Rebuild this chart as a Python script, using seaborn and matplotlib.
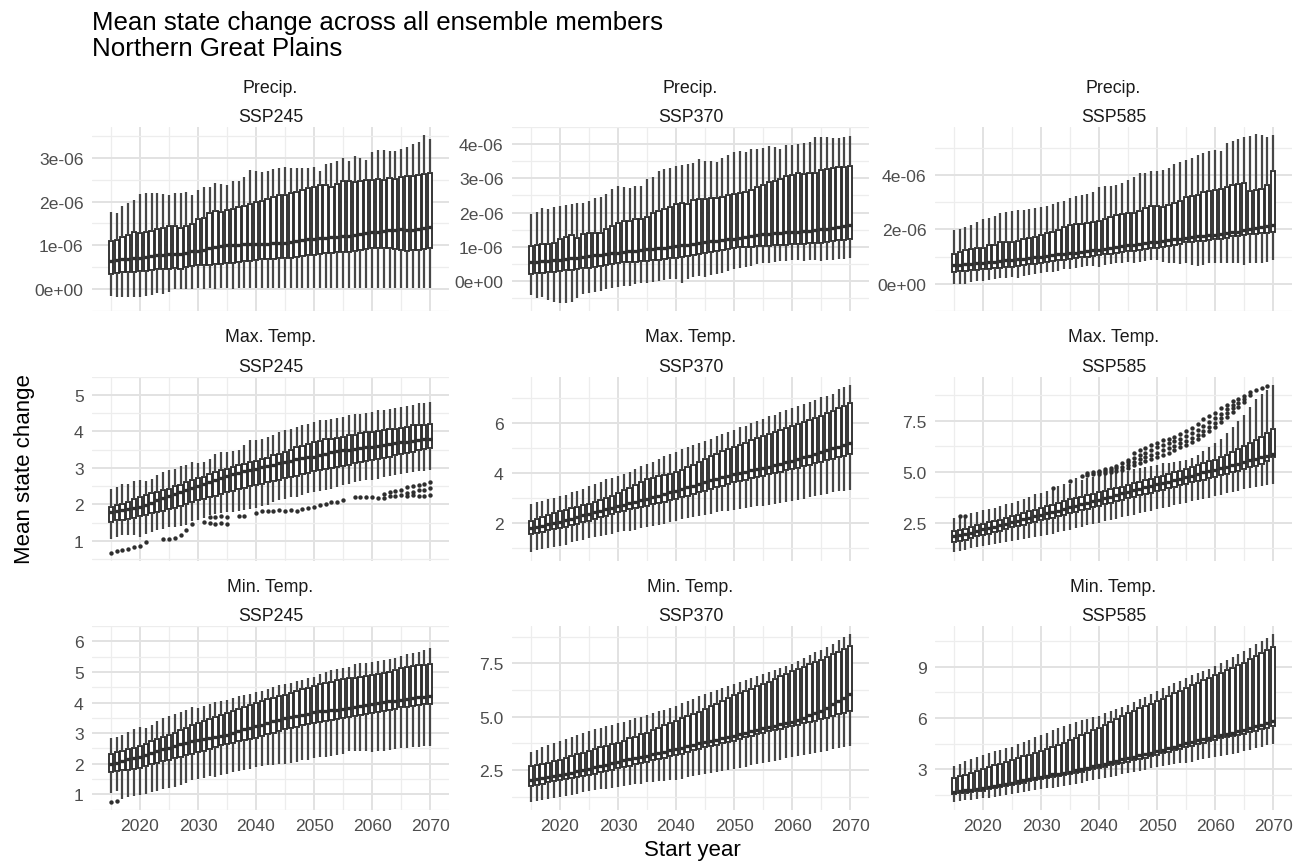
import matplotlib
matplotlib.use("Agg")
import matplotlib.pyplot as plt
import numpy as np
import pandas as pd
import seaborn as sns

# ---------------------------------------------------------------------------
# Data: five-number summaries of the ensemble mean state change per start year
# ---------------------------------------------------------------------------
YEARS = list(range(2015, 2071))
VARIABLES = ["Precip.", "Max. Temp.", "Min. Temp."]
SCENARIOS = ["SSP245", "SSP370", "SSP585"]
PRECIP_UNIT = 1e-6  # precipitation values below are in units of 1e-06

# Precipitation, SSP245
PR245_LO = [-0.15, -0.18, -0.19, -0.18, -0.18, -0.17, -0.15, -0.14, -0.10, -0.12,
            -0.07, 0.00, 0.01, 0.00, 0.01, 0.02, 0.01, 0.02, 0.01, 0.02,
            0.02, 0.01, 0.02, 0.02, 0.03, 0.02, 0.02, 0.03, 0.02, 0.03,
            0.02, 0.03, 0.02, 0.02, 0.03, 0.02, 0.02, 0.03, 0.02, 0.02,
            0.03, 0.02, 0.02, 0.03, 0.02, 0.02, 0.03, 0.02, 0.02, 0.03,
            0.02, 0.02, 0.03, 0.02, 0.02, 0.03]
PR245_Q1 = [0.35, 0.37, 0.38, 0.39, 0.40, 0.42, 0.42, 0.43, 0.45, 0.46,
            0.47, 0.48, 0.47, 0.50, 0.52, 0.54, 0.55, 0.56, 0.58, 0.58,
            0.59, 0.60, 0.62, 0.64, 0.65, 0.67, 0.68, 0.68, 0.69, 0.70,
            0.70, 0.72, 0.74, 0.76, 0.77, 0.78, 0.80, 0.82, 0.83, 0.84,
            0.85, 0.84, 0.86, 0.90, 0.92, 0.93, 0.93, 0.94, 0.95, 0.92,
            0.89, 0.88, 0.89, 0.90, 0.92, 0.93]
PR245_MED = [0.65, 0.66, 0.68, 0.69, 0.70, 0.72, 0.74, 0.75, 0.77, 0.78,
             0.80, 0.81, 0.81, 0.83, 0.86, 0.88, 0.90, 0.93, 0.97, 0.98,
             1.00, 1.00, 1.01, 1.02, 1.04, 1.04, 1.03, 1.04, 1.05, 1.05,
             1.06, 1.08, 1.10, 1.12, 1.14, 1.15, 1.16, 1.17, 1.18, 1.20,
             1.21, 1.22, 1.24, 1.26, 1.28, 1.30, 1.31, 1.32, 1.34, 1.36,
             1.37, 1.34, 1.36, 1.38, 1.40, 1.42]
PR245_Q3 = [1.11, 1.13, 1.18, 1.24, 1.30, 1.28, 1.31, 1.33, 1.37, 1.39,
            1.44, 1.44, 1.39, 1.44, 1.48, 1.61, 1.63, 1.74, 1.78, 1.76,
            1.81, 1.84, 1.87, 1.90, 1.95, 2.00, 2.02, 2.07, 2.11, 2.15,
            2.15, 2.19, 2.22, 2.26, 2.30, 2.33, 2.39, 2.39, 2.33, 2.41,
            2.46, 2.46, 2.44, 2.46, 2.50, 2.50, 2.52, 2.50, 2.54, 2.52,
            2.56, 2.58, 2.59, 2.61, 2.63, 2.65]
PR245_HI = [1.76, 1.74, 1.89, 1.96, 2.04, 2.18, 2.20, 2.20, 2.19, 2.17,
            2.15, 2.20, 2.20, 2.22, 2.15, 2.26, 2.33, 2.33, 2.42, 2.40,
            2.37, 2.46, 2.46, 2.56, 2.72, 2.70, 2.68, 2.70, 2.74, 2.76,
            2.78, 2.76, 2.76, 2.76, 2.76, 2.78, 2.70, 2.85, 2.89, 2.93,
            3.00, 2.93, 3.04, 3.00, 2.96, 3.13, 3.19, 3.17, 3.16, 3.16,
            3.21, 3.24, 3.31, 3.36, 3.52, 3.43]

# Precipitation, SSP370
PR370_LO = [-0.42, -0.49, -0.46, -0.54, -0.61, -0.63, -0.63, -0.61, -0.49, -0.39,
            -0.34, -0.32, -0.29, -0.24, -0.20, -0.17, -0.15, -0.13, -0.09, -0.07,
            -0.05, -0.03, 0.00, 0.03, 0.07, 0.05, -0.05, 0.07, 0.12, 0.15,
            0.13, 0.17, 0.20, 0.24, 0.29, 0.34, 0.39, 0.42, 0.44, 0.49,
            0.54, 0.52, 0.56, 0.59, 0.59, 0.62, 0.63, 0.59, 0.62, 0.63,
            0.59, 0.62, 0.63, 0.65, 0.65, 0.68]
PR370_Q1 = [0.22, 0.23, 0.25, 0.26, 0.28, 0.29, 0.31, 0.33, 0.35, 0.37,
            0.39, 0.42, 0.45, 0.48, 0.51, 0.54, 0.55, 0.56, 0.57, 0.58,
            0.59, 0.61, 0.62, 0.64, 0.66, 0.68, 0.71, 0.74, 0.77, 0.80,
            0.83, 0.86, 0.89, 0.92, 0.95, 0.98, 0.99, 1.00, 1.01, 1.02,
            1.02, 1.03, 1.04, 1.05, 1.06, 1.07, 1.08, 1.09, 1.10, 1.11,
            1.12, 1.14, 1.16, 1.19, 1.21, 1.24]
PR370_MED = [0.56, 0.57, 0.58, 0.60, 0.61, 0.63, 0.64, 0.66, 0.68, 0.70,
             0.73, 0.75, 0.77, 0.79, 0.81, 0.83, 0.85, 0.87, 0.89, 0.91,
             0.93, 0.95, 0.97, 0.98, 1.00, 1.02, 1.04, 1.06, 1.08, 1.11,
             1.14, 1.16, 1.18, 1.20, 1.22, 1.24, 1.27, 1.29, 1.32, 1.34,
             1.37, 1.38, 1.39, 1.40, 1.42, 1.43, 1.44, 1.46, 1.47, 1.49,
             1.51, 1.53, 1.56, 1.59, 1.62, 1.65]
PR370_Q3 = [1.02, 1.05, 1.07, 1.09, 1.12, 1.24, 1.30, 1.34, 1.27, 1.37,
            1.41, 1.39, 1.39, 1.51, 1.61, 1.69, 1.76, 1.76, 1.80, 1.82,
            1.88, 1.98, 2.05, 2.10, 2.15, 2.24, 2.29, 2.24, 2.37, 2.39,
            2.41, 2.44, 2.44, 2.47, 2.51, 2.54, 2.57, 2.60, 2.66, 2.76,
            2.80, 2.88, 2.93, 2.98, 3.07, 3.09, 3.17, 3.12, 3.17, 3.15,
            3.25, 3.27, 3.29, 3.32, 3.32, 3.37]
PR370_HI = [1.95, 2.02, 2.12, 2.10, 2.15, 2.18, 2.21, 2.24, 2.27, 2.27,
            2.34, 2.44, 2.46, 2.54, 2.68, 2.78, 2.76, 2.73, 2.78, 2.78,
            2.98, 3.05, 3.22, 3.27, 3.29, 3.35, 3.39, 3.41, 3.46, 3.56,
            3.51, 3.51, 3.48, 3.60, 3.68, 3.76, 3.80, 3.76, 3.87, 3.85,
            3.90, 3.95, 3.92, 3.87, 3.97, 3.97, 4.00, 4.03, 4.07, 4.20,
            4.22, 4.22, 4.19, 4.19, 4.22, 4.24]

# Precipitation, SSP585
PR585_LO = [0.00, 0.00, 0.00, 0.07, 0.09, 0.11, 0.14, 0.18, 0.20, 0.22,
            0.25, 0.22, 0.29, 0.31, 0.36, 0.40, 0.42, 0.44, 0.47, 0.53,
            0.55, 0.58, 0.62, 0.64, 0.66, 0.62, 0.69, 0.73, 0.75, 0.77,
            0.80, 0.77, 0.80, 0.84, 0.86, 0.86, 0.80, 0.77, 0.75, 0.73,
            0.75, 0.69, 0.66, 0.69, 0.75, 0.75, 0.77, 0.75, 0.77, 0.75,
            0.69, 0.75, 0.77, 0.77, 0.80, 0.86]
PR585_Q1 = [0.44, 0.46, 0.48, 0.50, 0.52, 0.53, 0.55, 0.57, 0.59, 0.61,
            0.62, 0.65, 0.68, 0.71, 0.74, 0.77, 0.80, 0.83, 0.86, 0.89,
            0.91, 0.94, 0.97, 1.00, 1.03, 1.06, 1.09, 1.11, 1.14, 1.17,
            1.19, 1.21, 1.24, 1.27, 1.30, 1.32, 1.36, 1.40, 1.44, 1.48,
            1.52, 1.54, 1.56, 1.58, 1.60, 1.63, 1.66, 1.70, 1.74, 1.77,
            1.80, 1.82, 1.84, 1.86, 1.88, 1.91]
PR585_MED = [0.69, 0.70, 0.72, 0.73, 0.75, 0.77, 0.79, 0.81, 0.83, 0.86,
             0.88, 0.90, 0.92, 0.94, 0.97, 0.99, 1.02, 1.05, 1.08, 1.10,
             1.13, 1.15, 1.18, 1.20, 1.23, 1.25, 1.28, 1.31, 1.35, 1.38,
             1.41, 1.44, 1.46, 1.49, 1.52, 1.54, 1.57, 1.60, 1.63, 1.66,
             1.69, 1.71, 1.74, 1.76, 1.78, 1.80, 1.83, 1.86, 1.89, 1.92,
             1.96, 2.00, 2.04, 2.08, 2.12, 2.18]
PR585_Q3 = [1.10, 1.17, 1.23, 1.28, 1.32, 1.32, 1.43, 1.43, 1.52, 1.52,
            1.54, 1.57, 1.65, 1.68, 1.72, 1.80, 1.85, 1.91, 1.98, 2.07,
            2.18, 2.20, 2.20, 2.24, 2.27, 2.31, 2.40, 2.46, 2.53, 2.57,
            2.60, 2.62, 2.68, 2.79, 2.86, 2.86, 2.84, 2.90, 2.98, 3.06,
            3.20, 3.23, 3.26, 3.37, 3.40, 3.45, 3.50, 3.56, 3.64, 3.66,
            3.72, 3.42, 3.45, 3.50, 3.64, 4.14]
PR585_HI = [1.96, 2.02, 2.09, 2.18, 2.27, 2.38, 2.42, 2.51, 2.60, 2.64,
            2.68, 2.73, 2.73, 2.75, 2.79, 2.84, 2.86, 2.95, 3.00, 3.06,
            3.15, 3.23, 3.26, 3.31, 3.39, 3.56, 3.61, 3.61, 3.63, 3.72,
            3.81, 3.94, 4.08, 4.08, 4.14, 4.16, 4.19, 4.25, 4.39, 4.47,
            4.55, 4.63, 4.74, 4.80, 4.88, 4.91, 4.88, 5.18, 5.25, 5.32,
            5.40, 5.43, 5.49, 5.47, 5.40, 5.47]

# Maximum temperature, SSP245
TX245_LO = [1.04, 1.10, 1.15, 1.15, 1.16, 1.12, 1.18, 1.23, 1.31, 1.33,
            1.37, 1.39, 1.41, 1.43, 1.55, 1.58, 1.62, 1.72, 1.74, 1.76,
            1.78, 1.80, 1.82, 1.84, 1.86, 1.90, 1.95, 1.98, 2.07, 2.11,
            2.15, 2.19, 2.21, 2.26, 2.31, 2.35, 2.37, 2.39, 2.43, 2.48,
            2.52, 2.56, 2.60, 2.64, 2.66, 2.68, 2.70, 2.74, 2.77, 2.80,
            2.82, 2.87, 2.88, 2.90, 2.92, 2.93]
TX245_Q1 = [1.53, 1.56, 1.58, 1.61, 1.64, 1.67, 1.71, 1.75, 1.79, 1.82,
            1.86, 1.91, 1.96, 2.01, 2.06, 2.11, 2.15, 2.20, 2.24, 2.29,
            2.33, 2.37, 2.41, 2.45, 2.49, 2.52, 2.56, 2.60, 2.64, 2.68,
            2.72, 2.76, 2.79, 2.83, 2.86, 2.90, 2.93, 2.96, 2.99, 3.02,
            3.05, 3.08, 3.12, 3.15, 3.18, 3.21, 3.24, 3.28, 3.31, 3.35,
            3.38, 3.41, 3.44, 3.48, 3.51, 3.54]
TX245_MED = [1.78, 1.81, 1.84, 1.87, 1.90, 1.94, 1.99, 2.05, 2.11, 2.17,
             2.23, 2.28, 2.34, 2.39, 2.44, 2.49, 2.55, 2.61, 2.67, 2.73,
             2.79, 2.82, 2.86, 2.90, 2.94, 2.97, 3.01, 3.05, 3.09, 3.13,
             3.17, 3.20, 3.23, 3.26, 3.29, 3.31, 3.35, 3.38, 3.42, 3.45,
             3.48, 3.50, 3.52, 3.54, 3.56, 3.58, 3.61, 3.63, 3.65, 3.68,
             3.70, 3.72, 3.74, 3.76, 3.78, 3.80]
TX245_Q3 = [1.94, 1.98, 2.02, 2.07, 2.15, 2.19, 2.25, 2.30, 2.35, 2.39,
            2.43, 2.49, 2.54, 2.60, 2.68, 2.72, 2.76, 2.82, 2.89, 2.93,
            2.98, 3.03, 3.07, 3.10, 3.15, 3.20, 3.23, 3.28, 3.34, 3.38,
            3.44, 3.50, 3.56, 3.61, 3.66, 3.70, 3.74, 3.79, 3.80, 3.83,
            3.85, 3.89, 3.91, 3.94, 3.97, 3.99, 4.02, 4.03, 4.05, 4.07,
            4.10, 4.12, 4.16, 4.18, 4.18, 4.20]
TX245_HI = [2.43, 2.48, 2.56, 2.57, 2.64, 2.68, 2.64, 2.70, 2.80, 2.89,
            2.93, 2.97, 3.05, 3.09, 3.15, 3.13, 3.17, 3.25, 3.38, 3.42,
            3.44, 3.46, 3.50, 3.62, 3.75, 3.75, 3.80, 3.85, 3.91, 3.97,
            4.03, 4.07, 4.11, 4.16, 4.21, 4.26, 4.30, 4.32, 4.34, 4.36,
            4.40, 4.44, 4.46, 4.48, 4.51, 4.53, 4.57, 4.59, 4.62, 4.65,
            4.67, 4.69, 4.73, 4.77, 4.78, 4.80]
TX245_OUT_YEAR = [2015, 2016, 2017, 2018, 2019, 2020, 2021,
                  2024, 2025, 2026, 2027, 2028, 2029,
                  2031, 2032, 2032, 2033, 2033, 2034, 2034, 2035, 2035,
                  2037, 2038,
                  2040, 2041, 2042, 2043, 2044, 2045, 2046, 2047, 2048, 2049,
                  2050, 2051, 2052, 2053, 2054, 2055,
                  2057, 2058, 2059, 2060, 2061, 2062, 2062, 2063, 2063,
                  2064, 2064, 2065, 2065, 2066, 2066, 2066, 2067, 2067, 2067,
                  2068, 2068, 2068, 2069, 2069, 2069, 2070, 2070, 2070]
TX245_OUT_VAL = [0.67, 0.71, 0.75, 0.79, 0.83, 0.87, 0.97,
                 1.04, 1.05, 1.08, 1.17, 1.31, 1.45,
                 1.51, 1.50, 1.66, 1.47, 1.66, 1.48, 1.67, 1.47, 1.66,
                 1.67, 1.67,
                 1.76, 1.82, 1.83, 1.83, 1.84, 1.83, 1.84, 1.82, 1.87, 1.90,
                 1.94, 1.98, 2.02, 2.06, 2.07, 2.12,
                 2.19, 2.19, 2.20, 2.19, 2.18, 2.17, 2.28, 2.22, 2.33,
                 2.24, 2.36, 2.26, 2.38, 2.23, 2.32, 2.47, 2.25, 2.35, 2.50,
                 2.22, 2.38, 2.52, 2.24, 2.40, 2.55, 2.26, 2.45, 2.62]

# Maximum temperature, SSP370
TX370_LO = [0.83, 0.93, 0.96, 0.99, 1.03, 1.09, 1.12, 1.23, 1.26, 1.33,
            1.39, 1.43, 1.47, 1.52, 1.56, 1.63, 1.66, 1.69, 1.73, 1.79,
            1.83, 1.87, 1.92, 1.96, 2.03, 2.09, 2.16, 2.19, 2.23, 2.29,
            2.32, 2.36, 2.43, 2.46, 2.49, 2.53, 2.56, 2.59, 2.63, 2.66,
            2.69, 2.72, 2.76, 2.80, 2.85, 2.89, 2.92, 2.96, 3.03, 3.06,
            3.12, 3.16, 3.23, 3.26, 3.29, 3.33]
TX370_Q1 = [1.56, 1.61, 1.65, 1.70, 1.74, 1.79, 1.85, 1.91, 1.97, 2.03,
            2.09, 2.16, 2.23, 2.29, 2.36, 2.43, 2.48, 2.54, 2.59, 2.64,
            2.69, 2.74, 2.80, 2.85, 2.91, 2.96, 3.03, 3.09, 3.16, 3.22,
            3.29, 3.36, 3.43, 3.49, 3.56, 3.63, 3.68, 3.73, 3.78, 3.84,
            3.89, 3.94, 4.00, 4.05, 4.11, 4.16, 4.21, 4.27, 4.32, 4.38,
            4.43, 4.50, 4.56, 4.63, 4.69, 4.76]
TX370_MED = [1.79, 1.84, 1.89, 1.94, 1.98, 2.03, 2.10, 2.17, 2.23, 2.30,
             2.36, 2.42, 2.48, 2.55, 2.61, 2.67, 2.73, 2.79, 2.85, 2.90,
             2.96, 3.03, 3.09, 3.16, 3.22, 3.29, 3.36, 3.43, 3.49, 3.56,
             3.63, 3.70, 3.76, 3.83, 3.89, 3.96, 4.01, 4.05, 4.10, 4.14,
             4.19, 4.25, 4.31, 4.37, 4.43, 4.49, 4.56, 4.63, 4.69, 4.76,
             4.83, 4.90, 4.98, 5.05, 5.12, 5.20]
TX370_Q3 = [2.09, 2.16, 2.24, 2.31, 2.38, 2.49, 2.53, 2.58, 2.64, 2.70,
            2.76, 2.85, 2.93, 3.00, 3.08, 3.20, 3.30, 3.40, 3.52, 3.64,
            3.76, 3.80, 3.86, 3.92, 3.97, 4.03, 4.12, 4.22, 4.32, 4.44,
            4.56, 4.66, 4.76, 4.86, 4.95, 5.03, 5.10, 5.20, 5.30, 5.40,
            5.49, 5.57, 5.65, 5.73, 5.81, 5.89, 5.97, 6.05, 6.13, 6.21,
            6.29, 6.39, 6.49, 6.59, 6.69, 6.80]
TX370_HI = [2.76, 2.83, 2.89, 2.96, 2.99, 3.09, 3.12, 3.23, 3.29, 3.36,
            3.49, 3.56, 3.63, 3.76, 3.79, 3.89, 3.96, 4.03, 4.16, 4.29,
            4.35, 4.45, 4.56, 4.67, 4.76, 4.85, 4.94, 5.03, 5.12, 5.20,
            5.29, 5.36, 5.47, 5.56, 5.63, 5.73, 5.83, 5.89, 6.00, 6.09,
            6.16, 6.27, 6.32, 6.43, 6.50, 6.59, 6.67, 6.76, 6.85, 6.93,
            7.03, 7.09, 7.16, 7.36, 7.43, 7.52]

# Maximum temperature, SSP585
TX585_LO = [1.06, 1.12, 1.18, 1.24, 1.30, 1.35, 1.40, 1.45, 1.50, 1.55,
            1.60, 1.65, 1.70, 1.75, 1.80, 1.84, 1.90, 1.97, 2.04, 2.10,
            2.17, 2.24, 2.30, 2.37, 2.44, 2.50, 2.57, 2.64, 2.70, 2.77,
            2.83, 2.90, 2.97, 3.03, 3.10, 3.16, 3.23, 3.29, 3.36, 3.42,
            3.48, 3.55, 3.61, 3.68, 3.74, 3.81, 3.88, 3.94, 4.01, 4.08,
            4.14, 4.19, 4.24, 4.30, 4.35, 4.39]
TX585_Q1 = [1.55, 1.62, 1.68, 1.76, 1.84, 1.91, 1.97, 2.05, 2.12, 2.19,
            2.27, 2.33, 2.40, 2.47, 2.55, 2.62, 2.69, 2.76, 2.83, 2.90,
            2.98, 3.05, 3.12, 3.19, 3.27, 3.34, 3.41, 3.48, 3.56, 3.63,
            3.70, 3.77, 3.84, 3.91, 3.98, 4.06, 4.13, 4.20, 4.27, 4.34,
            4.41, 4.48, 4.55, 4.62, 4.70, 4.77, 4.84, 4.91, 4.99, 5.06,
            5.14, 5.22, 5.31, 5.40, 5.52, 5.75]
TX585_MED = [1.84, 1.89, 1.95, 2.02, 2.10, 2.18, 2.24, 2.31, 2.38, 2.46,
             2.53, 2.60, 2.67, 2.74, 2.82, 2.90, 2.96, 3.03, 3.10, 3.18,
             3.26, 3.33, 3.41, 3.48, 3.56, 3.63, 3.70, 3.78, 3.86, 3.94,
             4.01, 4.09, 4.16, 4.24, 4.31, 4.38, 4.45, 4.52, 4.60, 4.67,
             4.75, 4.82, 4.89, 4.97, 5.04, 5.11, 5.19, 5.26, 5.33, 5.41,
             5.48, 5.56, 5.63, 5.71, 5.79, 5.88]
TX585_Q3 = [2.09, 2.15, 2.22, 2.29, 2.37, 2.45, 2.52, 2.59, 2.66, 2.74,
            2.83, 2.90, 2.98, 3.06, 3.14, 3.24, 3.31, 3.39, 3.47, 3.56,
            3.65, 3.72, 3.79, 3.86, 3.93, 4.00, 4.07, 4.14, 4.21, 4.28,
            4.35, 4.44, 4.52, 4.60, 4.66, 4.75, 4.82, 4.90, 4.98, 5.06,
            5.15, 5.24, 5.33, 5.42, 5.51, 5.60, 5.72, 5.84, 5.96, 6.10,
            6.25, 6.40, 6.55, 6.72, 6.90, 7.10]
TX585_HI = [2.75, 2.72, 2.78, 3.00, 3.05, 3.12, 3.18, 3.25, 3.32, 3.40,
            3.48, 3.56, 3.65, 3.78, 3.89, 3.95, 4.06, 4.10, 4.30, 4.38,
            4.40, 4.71, 4.62, 4.70, 4.75, 4.80, 4.85, 4.90, 4.95, 5.00,
            5.05, 5.15, 5.20, 5.25, 5.30, 5.35, 5.42, 5.45, 5.50, 5.55,
            5.60, 5.70, 5.85, 6.00, 6.20, 6.40, 6.60, 6.90, 7.20, 7.50,
            7.80, 8.20, 8.60, 8.80, 9.00, 9.27]
TX585_OUT_YEAR = [2016, 2017, 2032, 2035, 2037, 2038, 2038, 2039, 2039,
                  2040, 2040, 2040, 2041, 2041, 2041, 2042, 2042, 2042,
                  2043, 2043, 2043, 2044, 2044, 2044,
                  2045, 2045, 2045, 2045, 2046, 2046, 2046, 2046,
                  2047, 2047, 2047, 2047, 2048, 2048, 2048, 2048,
                  2049, 2049, 2049, 2049, 2050, 2050, 2050, 2050,
                  2051, 2051, 2051, 2051, 2052, 2052, 2052, 2052,
                  2053, 2053, 2053, 2053, 2054, 2054, 2054, 2054,
                  2055, 2055, 2055, 2055, 2056, 2056, 2056, 2056,
                  2057, 2057, 2057, 2057, 2058, 2058, 2058, 2058,
                  2059, 2059, 2059, 2059, 2060, 2060, 2060, 2060,
                  2061, 2061, 2061, 2061, 2062, 2062, 2062, 2062,
                  2063, 2063, 2063, 2063, 2064, 2064, 2064,
                  2065, 2065, 2065, 2066, 2066, 2067, 2068, 2069]
TX585_OUT_VAL = [2.83, 2.83, 4.22, 4.55, 4.80, 4.85, 4.93, 4.88, 4.97,
                 4.90, 5.00, 5.05, 4.95, 5.05, 5.15, 5.00, 5.10, 5.18,
                 5.05, 5.17, 5.28, 5.10, 5.25, 5.42,
                 5.20, 5.35, 5.50, 5.60, 5.35, 5.50, 5.70, 5.94,
                 5.45, 5.62, 5.82, 6.07, 5.55, 5.75, 5.95, 6.19,
                 5.65, 5.85, 6.05, 6.30, 5.75, 5.95, 6.20, 6.43,
                 5.85, 6.05, 6.30, 6.57, 5.95, 6.15, 6.40, 6.63,
                 6.05, 6.25, 6.50, 6.73, 6.20, 6.40, 6.60, 6.84,
                 6.30, 6.50, 6.75, 7.00, 6.45, 6.65, 6.90, 7.17,
                 6.60, 6.80, 7.05, 7.34, 6.80, 7.00, 7.25, 7.58,
                 7.00, 7.20, 7.45, 7.75, 7.20, 7.40, 7.65, 7.91,
                 7.45, 7.65, 7.85, 8.11, 7.70, 7.90, 8.10, 8.27,
                 7.95, 8.15, 8.30, 8.48, 8.20, 8.40, 8.60,
                 8.45, 8.60, 8.73, 8.75, 8.93, 9.02, 9.14, 9.22]

# Minimum temperature, SSP245
TN245_LO = [1.04, 1.12, 0.84, 0.92, 0.94, 0.97, 1.02, 1.07, 1.12, 1.17,
            1.22, 1.24, 1.32, 1.37, 1.47, 1.50, 1.54, 1.60, 1.57, 1.62,
            1.67, 1.72, 1.77, 1.80, 1.82, 1.88, 1.91, 1.95, 1.95, 1.98,
            2.00, 2.04, 2.07, 2.11, 2.13, 2.18, 2.21, 2.23, 2.25, 2.28,
            2.33, 2.41, 2.43, 2.43, 2.41, 2.38, 2.41, 2.43, 2.45, 2.48,
            2.51, 2.53, 2.55, 2.55, 2.58, 2.58]
TN245_Q1 = [1.72, 1.75, 1.78, 1.81, 1.84, 1.87, 1.92, 1.98, 2.03, 2.08,
            2.13, 2.18, 2.23, 2.28, 2.33, 2.38, 2.43, 2.49, 2.54, 2.60,
            2.65, 2.69, 2.73, 2.77, 2.81, 2.85, 2.91, 2.96, 3.02, 3.07,
            3.13, 3.17, 3.21, 3.25, 3.29, 3.33, 3.36, 3.39, 3.42, 3.45,
            3.48, 3.52, 3.55, 3.59, 3.62, 3.66, 3.70, 3.73, 3.77, 3.80,
            3.84, 3.86, 3.89, 3.91, 3.94, 3.96]
TN245_MED = [2.00, 2.04, 2.09, 2.14, 2.18, 2.23, 2.29, 2.35, 2.41, 2.47,
             2.53, 2.58, 2.63, 2.68, 2.73, 2.78, 2.81, 2.85, 2.88, 2.92,
             2.95, 3.01, 3.06, 3.12, 3.17, 3.23, 3.28, 3.33, 3.38, 3.43,
             3.48, 3.52, 3.56, 3.60, 3.64, 3.69, 3.71, 3.73, 3.75, 3.77,
             3.79, 3.82, 3.86, 3.89, 3.93, 3.96, 3.99, 4.01, 4.04, 4.06,
             4.09, 4.11, 4.14, 4.17, 4.19, 4.22]
TN245_Q3 = [2.33, 2.38, 2.43, 2.47, 2.52, 2.58, 2.66, 2.73, 2.80, 2.88,
            2.95, 3.02, 3.09, 3.16, 3.25, 3.33, 3.40, 3.46, 3.53, 3.60,
            3.66, 3.72, 3.79, 3.85, 3.92, 3.99, 4.05, 4.10, 4.16, 4.21,
            4.26, 4.32, 4.38, 4.43, 4.49, 4.54, 4.59, 4.63, 4.68, 4.72,
            4.76, 4.79, 4.81, 4.84, 4.86, 4.89, 4.93, 4.97, 5.01, 5.06,
            5.12, 5.15, 5.18, 5.21, 5.24, 5.27]
TN245_HI = [2.85, 2.88, 2.95, 3.03, 3.13, 3.21, 3.18, 3.28, 3.38, 3.48,
            3.56, 3.62, 3.69, 3.76, 3.84, 3.82, 3.89, 3.96, 4.02, 4.06,
            4.09, 4.16, 4.22, 4.25, 4.29, 4.34, 4.39, 4.44, 4.52, 4.56,
            4.59, 4.64, 4.69, 4.74, 4.79, 4.84, 4.92, 4.99, 5.06, 5.09,
            5.12, 5.16, 5.25, 5.30, 5.30, 5.33, 5.37, 5.40, 5.43, 5.47,
            5.53, 5.57, 5.63, 5.65, 5.73, 5.78]
TN245_OUT_YEAR = [2015, 2016]
TN245_OUT_VAL = [0.74, 0.77]

# Minimum temperature, SSP370
TN370_LO = [1.02, 1.06, 1.11, 1.14, 1.18, 1.22, 1.29, 1.34, 1.40, 1.47,
            1.53, 1.55, 1.59, 1.63, 1.65, 1.69, 1.74, 1.79, 1.83, 1.87,
            1.92, 1.94, 1.97, 2.00, 2.03, 2.05, 2.10, 2.16, 2.21, 2.26,
            2.31, 2.35, 2.41, 2.46, 2.50, 2.55, 2.60, 2.66, 2.72, 2.77,
            2.83, 2.87, 2.93, 2.99, 3.05, 3.09, 3.14, 3.19, 3.25, 3.31,
            3.36, 3.41, 3.47, 3.53, 3.58, 3.64]
TN370_Q1 = [1.74, 1.80, 1.87, 1.93, 1.99, 2.05, 2.09, 2.13, 2.18, 2.23,
            2.27, 2.33, 2.40, 2.46, 2.52, 2.58, 2.64, 2.71, 2.77, 2.83,
            2.89, 2.95, 3.01, 3.07, 3.14, 3.20, 3.27, 3.35, 3.42, 3.49,
            3.56, 3.62, 3.68, 3.75, 3.81, 3.87, 3.95, 4.03, 4.10, 4.18,
            4.26, 4.32, 4.38, 4.44, 4.51, 4.57, 4.63, 4.70, 4.76, 4.82,
            4.88, 4.96, 5.04, 5.11, 5.19, 5.27]
TN370_MED = [2.05, 2.09, 2.14, 2.18, 2.23, 2.27, 2.33, 2.38, 2.44, 2.49,
             2.55, 2.62, 2.69, 2.75, 2.82, 2.89, 2.95, 3.00, 3.06, 3.11,
             3.17, 3.23, 3.29, 3.36, 3.42, 3.48, 3.55, 3.62, 3.68, 3.75,
             3.82, 3.88, 3.93, 3.99, 4.04, 4.10, 4.17, 4.24, 4.31, 4.38,
             4.45, 4.51, 4.57, 4.64, 4.70, 4.76, 4.86, 4.96, 5.07, 5.17,
             5.27, 5.43, 5.58, 5.74, 5.89, 6.05]
TN370_Q3 = [2.67, 2.73, 2.80, 2.85, 2.92, 2.98, 3.06, 3.15, 3.23, 3.32,
            3.40, 3.48, 3.56, 3.63, 3.71, 3.79, 3.88, 3.98, 4.07, 4.17,
            4.26, 4.37, 4.48, 4.59, 4.70, 4.81, 4.92, 5.03, 5.13, 5.24,
            5.35, 5.48, 5.61, 5.74, 5.87, 6.00, 6.10, 6.21, 6.31, 6.42,
            6.52, 6.64, 6.77, 6.89, 7.02, 7.14, 7.24, 7.35, 7.45, 7.56,
            7.66, 7.79, 7.92, 8.05, 8.18, 8.31]
TN370_HI = [3.36, 3.46, 3.57, 3.66, 3.77, 3.87, 3.96, 4.05, 4.15, 4.24,
            4.34, 4.41, 4.48, 4.56, 4.63, 4.70, 4.77, 4.85, 4.92, 5.00,
            5.07, 5.16, 5.25, 5.33, 5.42, 5.51, 5.62, 5.73, 5.84, 5.95,
            6.05, 6.15, 6.24, 6.34, 6.43, 6.52, 6.61, 6.71, 6.80, 6.90,
            6.99, 7.08, 7.17, 7.27, 7.36, 7.45, 7.59, 7.73, 7.87, 8.01,
            8.15, 8.29, 8.43, 8.58, 8.72, 8.86]

# Minimum temperature, SSP585
TN585_LO = [1.10, 1.14, 1.18, 1.21, 1.25, 1.29, 1.34, 1.40, 1.45, 1.50,
            1.55, 1.60, 1.66, 1.71, 1.77, 1.82, 1.87, 1.92, 1.98, 2.03,
            2.08, 2.15, 2.21, 2.28, 2.34, 2.41, 2.48, 2.55, 2.62, 2.69,
            2.76, 2.83, 2.90, 2.98, 3.05, 3.12, 3.17, 3.23, 3.28, 3.34,
            3.39, 3.45, 3.52, 3.58, 3.65, 3.71, 3.78, 3.84, 3.91, 3.97,
            4.04, 4.13, 4.22, 4.31, 4.40, 4.49]
TN585_Q1 = [1.55, 1.59, 1.63, 1.67, 1.71, 1.75, 1.82, 1.88, 1.95, 2.01,
            2.08, 2.15, 2.21, 2.28, 2.34, 2.41, 2.47, 2.54, 2.60, 2.67,
            2.73, 2.80, 2.86, 2.93, 2.99, 3.06, 3.14, 3.22, 3.29, 3.37,
            3.45, 3.53, 3.61, 3.68, 3.76, 3.84, 3.93, 4.02, 4.11, 4.20,
            4.29, 4.38, 4.47, 4.55, 4.64, 4.73, 4.80, 4.87, 4.94, 5.01,
            5.08, 5.17, 5.26, 5.34, 5.43, 5.51]
TN585_MED = [1.69, 1.73, 1.77, 1.80, 1.84, 1.88, 1.95, 2.02, 2.08, 2.15,
             2.22, 2.29, 2.36, 2.43, 2.50, 2.57, 2.63, 2.69, 2.74, 2.80,
             2.86, 2.94, 3.02, 3.09, 3.17, 3.25, 3.33, 3.41, 3.49, 3.57,
             3.65, 3.73, 3.81, 3.88, 3.96, 4.04, 4.14, 4.24, 4.33, 4.43,
             4.53, 4.61, 4.69, 4.76, 4.84, 4.92, 5.00, 5.08, 5.15, 5.23,
             5.31, 5.41, 5.51, 5.60, 5.70, 5.80]
TN585_Q3 = [2.47, 2.58, 2.68, 2.79, 2.89, 3.00, 3.11, 3.22, 3.33, 3.44,
            3.55, 3.65, 3.75, 3.84, 3.94, 4.04, 4.17, 4.30, 4.43, 4.56,
            4.69, 4.83, 4.98, 5.12, 5.27, 5.41, 5.59, 5.76, 5.94, 6.11,
            6.29, 6.43, 6.57, 6.70, 6.84, 6.98, 7.14, 7.29, 7.45, 7.60,
            7.76, 7.91, 8.05, 8.20, 8.34, 8.49, 8.64, 8.79, 8.94, 9.09,
            9.24, 9.43, 9.62, 9.80, 9.99, 10.18]
TN585_HI = [3.20, 3.33, 3.46, 3.58, 3.71, 3.84, 3.94, 4.04, 4.13, 4.23,
            4.33, 4.47, 4.61, 4.74, 4.88, 5.02, 5.15, 5.28, 5.41, 5.54,
            5.67, 5.76, 5.86, 5.95, 6.05, 6.14, 6.27, 6.40, 6.52, 6.65,
            6.78, 6.94, 7.10, 7.25, 7.41, 7.57, 7.73, 7.88, 8.04, 8.19,
            8.35, 8.49, 8.63, 8.76, 8.90, 9.04, 9.22, 9.39, 9.57, 9.74,
            9.92, 10.12, 10.32, 10.51, 10.71, 10.90]

# Y-axis breaks of each facet
PR245_TICKS = [0e-6, 1e-6, 2e-6, 3e-6]
PR370_TICKS = [0e-6, 1e-6, 2e-6, 3e-6, 4e-6]
PR585_TICKS = [0e-6, 2e-6, 4e-6]
TX245_TICKS = [1, 2, 3, 4, 5]
TX370_TICKS = [2, 4, 6]
TX585_TICKS = [2.5, 5.0, 7.5]
TN245_TICKS = [1, 2, 3, 4, 5, 6]
TN370_TICKS = [2.5, 5.0, 7.5]
TN585_TICKS = [3, 6, 9]
X_TICKS = [2020, 2030, 2040, 2050, 2060, 2070]

PANELS = {
    ("Precip.", "SSP245"): (PR245_LO, PR245_Q1, PR245_MED, PR245_Q3, PR245_HI, [], [], PR245_TICKS, PRECIP_UNIT),
    ("Precip.", "SSP370"): (PR370_LO, PR370_Q1, PR370_MED, PR370_Q3, PR370_HI, [], [], PR370_TICKS, PRECIP_UNIT),
    ("Precip.", "SSP585"): (PR585_LO, PR585_Q1, PR585_MED, PR585_Q3, PR585_HI, [], [], PR585_TICKS, PRECIP_UNIT),
    ("Max. Temp.", "SSP245"): (TX245_LO, TX245_Q1, TX245_MED, TX245_Q3, TX245_HI, TX245_OUT_YEAR, TX245_OUT_VAL, TX245_TICKS, 1.0),
    ("Max. Temp.", "SSP370"): (TX370_LO, TX370_Q1, TX370_MED, TX370_Q3, TX370_HI, [], [], TX370_TICKS, 1.0),
    ("Max. Temp.", "SSP585"): (TX585_LO, TX585_Q1, TX585_MED, TX585_Q3, TX585_HI, TX585_OUT_YEAR, TX585_OUT_VAL, TX585_TICKS, 1.0),
    ("Min. Temp.", "SSP245"): (TN245_LO, TN245_Q1, TN245_MED, TN245_Q3, TN245_HI, TN245_OUT_YEAR, TN245_OUT_VAL, TN245_TICKS, 1.0),
    ("Min. Temp.", "SSP370"): (TN370_LO, TN370_Q1, TN370_MED, TN370_Q3, TN370_HI, [], [], TN370_TICKS, 1.0),
    ("Min. Temp.", "SSP585"): (TN585_LO, TN585_Q1, TN585_MED, TN585_Q3, TN585_HI, [], [], TN585_TICKS, 1.0),
}

# ---------------------------------------------------------------------------
# Long-format tables: each year's box is built from its five summary values,
# so quartiles/median are exact and whiskers span min..max.
# ---------------------------------------------------------------------------
box_rows, out_rows = [], []
for (var, scen), (lo, q1, med, q3, hi, oy, ov, _, unit) in PANELS.items():
    for i, yr in enumerate(YEARS):
        for v in (lo[i], q1[i], med[i], q3[i], hi[i]):
            box_rows.append((var, scen, yr, v * unit))
    for yr, v in zip(oy, ov):
        out_rows.append((var, scen, yr, v * unit))
boxes = pd.DataFrame(box_rows, columns=["variable", "scenario", "year", "value"])
outliers = pd.DataFrame(out_rows, columns=["variable", "scenario", "year", "value"])

# ---------------------------------------------------------------------------
# Figure
# ---------------------------------------------------------------------------
sns.set_theme(style="white")
plt.rcParams["font.family"] = ["Liberation Sans", "DejaVu Sans"]

W, H = 1305, 862
fig = plt.figure(figsize=(W / 100, H / 100), dpi=100)
fig.patch.set_facecolor("white")

COL_LEFT = [92, 512, 935]
PANEL_W = 357
ROW_TOP = [128, 377.5, 627]
PANEL_H = 184
LINE = "#2E2E2E"
GRID_MAJOR = "#E2E2E2"
GRID_MINOR = "#EDEDED"
TICK_PT = 12.6
STRIP_PT = 12.8


def px_x(x):
    return x / W


def px_y(y):
    return 1 - y / H


def fmt_tick(v, ticks, unit):
    if unit != 1.0:
        return f"{v:.0e}"
    if any(abs(t - round(t)) > 1e-9 for t in ticks):
        return f"{v:.1f}"
    return f"{int(round(v))}"


for r, var in enumerate(VARIABLES):
    for c, scen in enumerate(SCENARIOS):
        lo, q1, med, q3, hi, oy, ov, ticks, unit = PANELS[(var, scen)]
        left, top = COL_LEFT[c], ROW_TOP[r]
        ax = fig.add_axes([px_x(left), px_y(top + PANEL_H), PANEL_W / W, PANEL_H / H])

        sub = boxes[(boxes["variable"] == var) & (boxes["scenario"] == scen)]
        sns.boxplot(
            data=sub, x="year", y="value", native_scale=True, ax=ax,
            width=0.74, whis=(0, 100), showfliers=False, showcaps=False,
            color="white", saturation=1, linecolor=LINE, linewidth=1.35,
            medianprops=dict(linewidth=2.4, color=LINE),
            whiskerprops=dict(linewidth=1.6, color="#474747"),
        )
        osub = outliers[(outliers["variable"] == var) & (outliers["scenario"] == scen)]
        if len(osub):
            sns.scatterplot(data=osub, x="year", y="value", ax=ax, color=LINE,
                            s=10, linewidth=0, legend=False, zorder=3)

        # scale limits with a 5% expansion
        vals = list(lo) + list(hi) + list(ov)
        vmin, vmax = min(vals) * unit, max(vals) * unit
        pad = 0.05 * (vmax - vmin)
        ax.set_ylim(vmin - pad, vmax + pad)
        ax.set_xlim(2011.75, 2073.25)

        step = ticks[1] - ticks[0]
        ax.set_yticks(ticks)
        ax.set_yticks([ticks[0] - step / 2] + [t + step / 2 for t in ticks], minor=True)
        ax.set_yticklabels([fmt_tick(t, ticks, unit) for t in ticks])
        ax.set_xticks(X_TICKS)
        ax.set_xticks([2015, 2025, 2035, 2045, 2055, 2065], minor=True)
        ax.set_xticklabels([str(t) for t in X_TICKS] if r == 2 else [])

        ax.set_facecolor("white")
        ax.set_axisbelow(True)
        ax.grid(which="major", color=GRID_MAJOR, linewidth=1.4)
        ax.grid(which="minor", color=GRID_MINOR, linewidth=0.9)
        for sp in ax.spines.values():
            sp.set_visible(False)
        ax.tick_params(which="both", length=0)
        ax.tick_params(axis="y", labelsize=TICK_PT, labelcolor="#4D4D4D", pad=6)
        ax.tick_params(axis="x", labelsize=TICK_PT, labelcolor="#4D4D4D", pad=6)
        ax.set_xlabel("")
        ax.set_ylabel("")

        # two-line facet strip
        cx = px_x(left + PANEL_W / 2)
        fig.text(cx, px_y(top - 35), var, ha="center", va="baseline",
                 fontsize=STRIP_PT, color="#1A1A1A")
        fig.text(cx, px_y(top - 6), scen, ha="center", va="baseline",
                 fontsize=STRIP_PT, color="#1A1A1A")

# titles
fig.text(px_x(92), px_y(30), "Mean state change across all ensemble members",
         ha="left", va="baseline", fontsize=18.6, color="black")
fig.text(px_x(92), px_y(56.5), "Northern Great Plains",
         ha="left", va="baseline", fontsize=18.6, color="black")
fig.text(px_x(692), px_y(856), "Start year", ha="center", va="baseline",
         fontsize=16.0, color="black")
fig.text(px_x(25), px_y(469.5), "Mean state change", ha="center", va="center",
         rotation=90, fontsize=16.0, color="black")

fig.savefig("out.png", dpi=100, facecolor="white")
